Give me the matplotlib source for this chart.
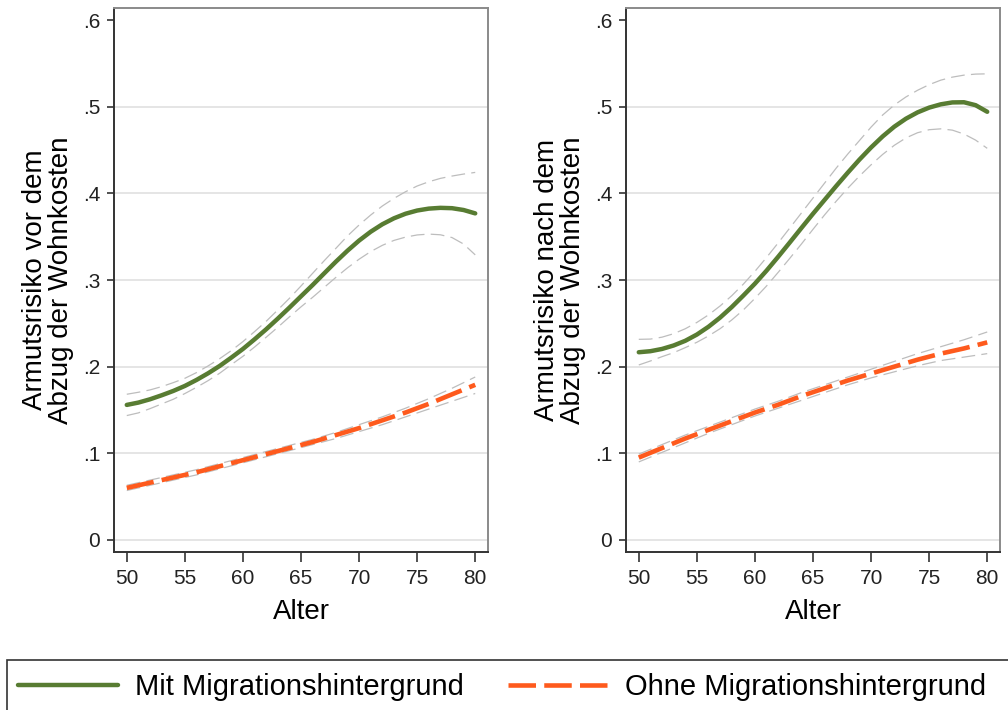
import numpy as np
import matplotlib
matplotlib.use("Agg")
import matplotlib.pyplot as plt
from matplotlib.patches import Rectangle

plt.rcParams['font.family'] = ['Liberation Sans', 'DejaVu Sans']

# Alter: yearly for the curved series, every second year for the flat ones
alter = list(range(50, 81))
alter2 = list(range(50, 81, 2))

# Armutsrisiko vor Abzug der Wohnkosten
vor_mit = [0.1558, 0.1585, 0.1623, 0.1669, 0.1719, 0.1777, 0.1846, 0.1923,
           0.2008, 0.2104, 0.2204, 0.2315, 0.2431, 0.2554, 0.2681, 0.2812,
           0.2942, 0.3077, 0.3211, 0.3338, 0.3455, 0.3557, 0.3643, 0.3712,
           0.3765, 0.3802, 0.3824, 0.3833, 0.3829, 0.3808, 0.3769]
vor_mit_hi = [0.1681, 0.1704, 0.1731, 0.1769, 0.1815, 0.1865, 0.1931, 0.2008,
              0.2092, 0.2185, 0.2289, 0.2404, 0.2523, 0.2654, 0.2788, 0.2931,
              0.3077, 0.3223, 0.3365, 0.3508, 0.3635, 0.3750, 0.3854, 0.3942,
              0.4019, 0.4085, 0.4134, 0.4173, 0.4200, 0.4223, 0.4242]
vor_mit_lo = [0.1435, 0.1466, 0.1515, 0.1569, 0.1623, 0.1689, 0.1761, 0.1838,
              0.1924, 0.2023, 0.2119, 0.2226, 0.2339, 0.2454, 0.2574, 0.2690,
              0.2800, 0.2915, 0.3030, 0.3140, 0.3240, 0.3328, 0.3400, 0.3457,
              0.3495, 0.3520, 0.3530, 0.3522, 0.3490, 0.3415, 0.3290]
vor_ohne = [0.060, 0.066, 0.072, 0.078, 0.085, 0.092, 0.099, 0.106, 0.113,
            0.121, 0.129, 0.138, 0.147, 0.157, 0.168, 0.179]
vor_ohne_hi = [0.063, 0.069, 0.075, 0.081, 0.088, 0.095, 0.102, 0.109, 0.116,
               0.124, 0.133, 0.142, 0.152, 0.163, 0.175, 0.188]
vor_ohne_lo = [0.057, 0.063, 0.069, 0.075, 0.082, 0.089, 0.096, 0.103, 0.110,
               0.117, 0.125, 0.133, 0.142, 0.151, 0.160, 0.169]

# Armutsrisiko nach Abzug der Wohnkosten
nach_mit = [0.2166, 0.2178, 0.2204, 0.2244, 0.2298, 0.2370, 0.2460, 0.2566,
            0.2687, 0.2820, 0.2958, 0.3108, 0.3268, 0.3433, 0.3600, 0.3765,
            0.3925, 0.4085, 0.4240, 0.4390, 0.4530, 0.4658, 0.4770, 0.4862,
            0.4935, 0.4990, 0.5028, 0.5050, 0.5052, 0.5018, 0.4942]
nach_mit_hi = [0.2315, 0.2318, 0.2340, 0.2380, 0.2437, 0.2510, 0.2597, 0.2700,
               0.2818, 0.2952, 0.3100, 0.3260, 0.3428, 0.3600, 0.3773, 0.3946,
               0.4119, 0.4292, 0.4455, 0.4610, 0.4765, 0.4905, 0.5020, 0.5113,
               0.5190, 0.5255, 0.5307, 0.5342, 0.5365, 0.5377, 0.5380]
nach_mit_lo = [0.2019, 0.2065, 0.2115, 0.2161, 0.2219, 0.2281, 0.2354, 0.2438,
               0.2538, 0.2654, 0.2788, 0.2931, 0.3088, 0.3250, 0.3415, 0.3585,
               0.3752, 0.3910, 0.4060, 0.4200, 0.4330, 0.4450, 0.4555, 0.4640,
               0.4700, 0.4735, 0.4745, 0.4730, 0.4685, 0.4615, 0.4520]
nach_ohne = [0.095, 0.106, 0.117, 0.127, 0.137, 0.147, 0.156, 0.166, 0.175,
             0.184, 0.192, 0.200, 0.208, 0.215, 0.221, 0.228]
nach_ohne_hi = [0.099, 0.110, 0.121, 0.131, 0.141, 0.151, 0.160, 0.170, 0.179,
                0.188, 0.197, 0.206, 0.215, 0.223, 0.231, 0.240]
nach_ohne_lo = [0.090, 0.101, 0.112, 0.123, 0.133, 0.143, 0.152, 0.161, 0.170,
                0.179, 0.187, 0.194, 0.201, 0.207, 0.211, 0.215]

ytick_vals = [0, 0.1, 0.2, 0.3, 0.4, 0.5, 0.6]
ytick_labels = ['0', '.1', '.2', '.3', '.4', '.5', '.6']
xtick_vals = [50, 55, 60, 65, 70, 75, 80]

ylabels = ['Armutsrisiko vor dem\nAbzug der Wohnkosten',
           'Armutsrisiko nach dem\nAbzug der Wohnkosten']
legend_labels = ['Mit Migrationshintergrund', 'Ohne Migrationshintergrund']

green = '#587c32'
orange = '#fe5a1d'
ci_grey = '#bdbdbd'

fig = plt.figure(figsize=(10.08, 7.1), dpi=100)
ax1 = fig.add_axes([114/1008, 1-552/710, 374/1008, 544/710])
ax2 = fig.add_axes([626/1008, 1-552/710, 374/1008, 544/710])

panels = [
    (ax1, vor_mit, vor_mit_hi, vor_mit_lo, vor_ohne, vor_ohne_hi, vor_ohne_lo),
    (ax2, nach_mit, nach_mit_hi, nach_mit_lo, nach_ohne, nach_ohne_hi, nach_ohne_lo),
]

handles = None
for i, (ax, m, mh, ml, o, oh, ol) in enumerate(panels):
    for yv in ytick_vals[:-1]:
        ax.axhline(yv, color='#e3e3e3', lw=1.3, zorder=0)
    for ci in (mh, ml):
        ax.plot(alter, ci, color=ci_grey, lw=0.9, dashes=(11, 5), zorder=2)
    for ci in (oh, ol):
        ax.plot(alter2, ci, color=ci_grey, lw=0.9, dashes=(11, 5), zorder=2)
    l1, = ax.plot(alter, m, color=green, lw=3.2, solid_capstyle='round',
                  solid_joinstyle='round', zorder=3)
    l2, = ax.plot(alter2, o, color=orange, lw=3.3, dashes=(6, 1.8), zorder=3)
    handles = [l1, l2]

    ax.set_xlim(48.9, 81.1)
    ax.set_ylim(-0.014, 0.614)
    ax.set_xticks(xtick_vals)
    ax.set_yticks(ytick_vals)
    ax.set_yticklabels(ytick_labels)
    ax.tick_params(axis='both', labelsize=15, colors='#222222', width=1.1,
                   pad=5)
    ax.tick_params(axis='y', length=5)
    ax.tick_params(axis='x', length=7)
    ax.set_xlabel('Alter', fontsize=20, labelpad=8)
    ax.set_ylabel(ylabels[i], fontsize=20, labelpad=6, linespacing=1.0)
    for side in ('left', 'bottom'):
        ax.spines[side].set_color('#333333')
        ax.spines[side].set_linewidth(1.4)
    for side in ('top', 'right'):
        ax.spines[side].set_color('#8a8a8a')
        ax.spines[side].set_linewidth(1.4)

# legend box running off the lower and right edge
fig.patches.append(Rectangle((7/1008, -0.1), 1.1, (710-660)/710 + 0.1,
                             transform=fig.transFigure, fill=False,
                             ec='#333333', lw=1.2))
fig.legend(handles, legend_labels, loc='center left',
           bbox_to_anchor=(18/1008, 1-687/710), ncol=2, frameon=False,
           fontsize=21, handlelength=3.42, handletextpad=0.58,
           columnspacing=1.54, borderpad=0, borderaxespad=0)

fig.savefig('out.png', dpi=100)
